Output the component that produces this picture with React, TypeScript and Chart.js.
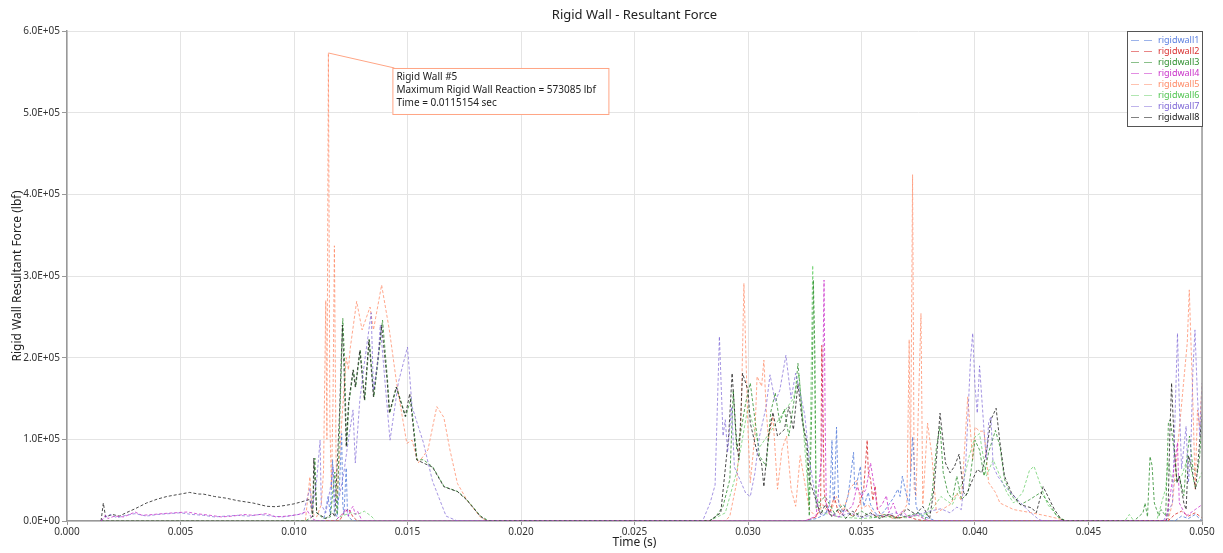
import React, { useEffect, useRef } from "react";
import { Chart, registerables } from "chart.js";

Chart.register(...registerables);

// Values are [time (s), force (thousands of lbf)]
const KLBF = 1000;

const rigidwall1: [number, number][] = [
  [0.0015, 0], [0.0113, 0], [0.0115, 30], [0.0116, 8], [0.0117, 75], [0.01178, 10], [0.0119, 5], [0.012, 40],
  [0.0121, 107], [0.01215, 20], [0.0122, 8], [0.0123, 65], [0.01235, 15], [0.0124, 5], [0.0126, 0],
  [0.0325, 0], [0.033, 3], [0.0334, 8], [0.0336, 20], [0.0337, 99], [0.03375, 30], [0.0338, 25], [0.0339, 115],
  [0.03395, 60], [0.034, 20], [0.0342, 10], [0.0344, 30], [0.0345, 50], [0.03465, 84], [0.0347, 40], [0.0348, 47],
  [0.03495, 67], [0.035, 40], [0.0351, 18], [0.0353, 35], [0.0354, 20], [0.0356, 10], [0.0358, 6], [0.036, 12],
  [0.0362, 20], [0.0364, 28], [0.0366, 39], [0.0367, 30], [0.0368, 55], [0.03695, 35], [0.0371, 20], [0.03725, 103],
  [0.0373, 84], [0.0374, 20], [0.0375, 10], [0.0378, 5], [0.0381, 2], [0.0383, 0], [0.0488, 0], [0.0491, 6],
  [0.0494, 3], [0.0497, 8], [0.05, 0],
];

const rigidwall2: [number, number][] = [
  [0.0015, 0], [0.012, 0], [0.0122, 10], [0.0124, 15], [0.0126, 5], [0.0128, 0], [0.0325, 0], [0.033, 5],
  [0.0332, 20], [0.03325, 215], [0.0333, 150], [0.03335, 40], [0.0334, 25], [0.0336, 10], [0.0338, 30], [0.034, 8],
  [0.0343, 15], [0.0346, 5], [0.0349, 20], [0.0351, 40], [0.03525, 99], [0.0353, 60], [0.0354, 51], [0.0355, 25],
  [0.0356, 43], [0.0357, 15], [0.0359, 5], [0.0362, 8], [0.0366, 3], [0.037, 6], [0.0374, 2], [0.0378, 0],
  [0.0485, 0], [0.0488, 8], [0.0491, 12], [0.0494, 6], [0.0497, 10], [0.05, 4],
];

const rigidwall3: [number, number][] = [
  [0.0015, 0], [0.0105, 0], [0.0108, 5], [0.01092, 77], [0.011, 10], [0.0113, 3], [0.0116, 5], [0.0118, 60],
  [0.0119, 8], [0.01202, 128], [0.01215, 248], [0.01222, 203], [0.01232, 91], [0.01242, 144], [0.01262, 185],
  [0.01272, 164], [0.01292, 209], [0.01312, 148], [0.01332, 222], [0.01352, 152], [0.01372, 200], [0.0139, 246],
  [0.01412, 173], [0.01422, 132], [0.01452, 164], [0.01492, 128], [0.01515, 150], [0.01542, 75], [0.0157, 75],
  [0.01612, 66], [0.01662, 42], [0.01722, 36], [0.01762, 26], [0.01822, 6], [0.0186, 0],
  [0.0283, 0], [0.0286, 6], [0.0289, 18], [0.0292, 51], [0.02935, 160], [0.0295, 88], [0.0297, 112], [0.0299, 145],
  [0.0301, 169], [0.0304, 104], [0.0305, 80], [0.0308, 67], [0.031, 133], [0.0312, 157], [0.0314, 120],
  [0.0316, 137], [0.0318, 104], [0.0321, 161], [0.0322, 193], [0.0324, 128], [0.0326, 80], [0.0327, 6],
  [0.03282, 150], [0.03288, 295], [0.03295, 200], [0.033, 15], [0.0332, 25], [0.0334, 30], [0.0338, 10],
  [0.0342, 20], [0.0346, 5], [0.035, 12], [0.0355, 4], [0.036, 8], [0.0365, 3], [0.037, 6], [0.0375, 10],
  [0.0378, 2], [0.0381, 30], [0.0383, 90], [0.03846, 116], [0.0386, 59], [0.0388, 35], [0.039, 26], [0.0392, 55],
  [0.0394, 26], [0.0397, 35], [0.04, 99], [0.0402, 87], [0.0404, 55], [0.0406, 84], [0.0409, 111], [0.0411, 91],
  [0.0413, 51], [0.0416, 31], [0.042, 20], [0.0424, 26], [0.0429, 35], [0.0433, 20], [0.0436, 6], [0.044, 0],
  [0.047, 0], [0.0474, 10], [0.04749, 22], [0.0476, 5], [0.04771, 79], [0.0478, 68], [0.0479, 22], [0.0481, 6],
  [0.0482, 14], [0.0484, 6], [0.04852, 120], [0.0486, 124], [0.0488, 80], [0.0489, 47], [0.049, 55], [0.0492, 31],
  [0.0493, 68], [0.04945, 104], [0.0496, 64], [0.0498, 59], [0.0499, 80], [0.05, 124],
];

const rigidwall4: [number, number][] = [
  [0.0015, 0], [0.0017, 7], [0.0018, 3], [0.0021, 6], [0.0025, 5], [0.003, 11], [0.0033, 7], [0.0038, 8],
  [0.0042, 9], [0.0047, 10], [0.0053, 11], [0.0057, 9], [0.0063, 7], [0.0068, 5], [0.0073, 6], [0.0078, 8],
  [0.0082, 7], [0.0088, 9], [0.0092, 5], [0.0097, 6], [0.0102, 8], [0.0106, 12], [0.0108, 3], [0.011, 0],
  [0.0118, 0], [0.0121, 8], [0.0123, 15], [0.0124, 6], [0.0125, 14], [0.0126, 18], [0.0127, 8], [0.0128, 12],
  [0.013, 0], [0.0325, 0], [0.033, 6], [0.03325, 80], [0.03335, 295], [0.0334, 120], [0.03345, 20], [0.0336, 8],
  [0.034, 5], [0.0343, 12], [0.0346, 18], [0.0348, 42], [0.035, 30], [0.0352, 39], [0.0354, 71], [0.0356, 35],
  [0.0357, 14], [0.0359, 20], [0.0361, 31], [0.0362, 10], [0.0364, 22], [0.0366, 6], [0.0368, 12], [0.0371, 4],
  [0.0374, 8], [0.0378, 2], [0.038, 0], [0.0484, 0], [0.0486, 31], [0.04892, 96], [0.049, 22], [0.0493, 6],
  [0.0497, 14], [0.05, 20],
];

const rigidwall5: [number, number][] = [
  [0.0015, 0], [0.0105, 0], [0.0107, 54], [0.0108, 10], [0.011, 5], [0.0112, 20], [0.0113, 60], [0.0114, 270],
  [0.01145, 100], [0.0115154, 573.085], [0.01158, 120], [0.01165, 40], [0.01172, 150], [0.01178, 337],
  [0.01185, 80], [0.0119, 30], [0.0121, 120], [0.0123, 200], [0.0124, 185], [0.01247, 210], [0.01276, 269],
  [0.013, 234], [0.01335, 262], [0.0135, 234], [0.01386, 289], [0.0142, 234], [0.01452, 169], [0.01497, 95],
  [0.0152, 99], [0.01547, 71], [0.0159, 87], [0.01629, 140], [0.0166, 127], [0.01687, 87], [0.0172, 46],
  [0.01761, 26], [0.0182, 5], [0.0185, 0],
  [0.029, 0], [0.0292, 6], [0.0295, 47], [0.0297, 128], [0.02982, 291], [0.03, 111], [0.0301, 47], [0.0303, 104],
  [0.0304, 177], [0.0306, 165], [0.0307, 197], [0.0308, 137], [0.0309, 100], [0.0311, 128], [0.0313, 39],
  [0.0315, 88], [0.0317, 104], [0.0319, 39], [0.0321, 18], [0.0323, 80], [0.0325, 47], [0.0327, 14], [0.033, 5],
  [0.0333, 20], [0.0336, 8], [0.0339, 30], [0.0342, 12], [0.0345, 40], [0.0348, 50], [0.035, 15], [0.0353, 20],
  [0.0356, 5], [0.036, 8], [0.0364, 3], [0.0368, 10], [0.037, 20], [0.0371, 222], [0.03716, 60], [0.03725, 424],
  [0.03732, 40], [0.0374, 30], [0.03762, 254], [0.0377, 20], [0.03791, 120], [0.0381, 80], [0.0383, 10],
  [0.0386, 15], [0.0389, 20], [0.0392, 34], [0.0394, 25], [0.03968, 152], [0.0399, 75], [0.04, 115], [0.0402, 110],
  [0.0404, 110], [0.0406, 47], [0.0409, 35], [0.0411, 22], [0.0417, 14], [0.0425, 10], [0.0432, 6], [0.0438, 2],
  [0.044, 0], [0.0485, 0], [0.0487, 22], [0.04935, 218], [0.04944, 283], [0.0496, 144], [0.0497, 39],
  [0.0498, 136], [0.0499, 116], [0.05, 169],
];

const rigidwall6: [number, number][] = [
  [0.0015, 0], [0.0118, 0], [0.012, 5], [0.0125, 10], [0.0128, 8], [0.0131, 12], [0.0134, 6], [0.0136, 0],
  [0.0283, 0], [0.029, 10], [0.0295, 60], [0.03, 140], [0.0305, 90], [0.031, 110], [0.0315, 130], [0.032, 150],
  [0.03225, 180], [0.0325, 90], [0.0327, 20], [0.03285, 313], [0.0329, 250], [0.033, 30], [0.0333, 10],
  [0.034, 5], [0.035, 3], [0.036, 5], [0.037, 4], [0.038, 10], [0.0385, 30], [0.039, 20], [0.0395, 50],
  [0.03975, 80], [0.04, 103], [0.0402, 107], [0.0405, 55], [0.0408, 75], [0.0411, 55], [0.0414, 35], [0.0417, 22],
  [0.0421, 35], [0.0424, 62], [0.0426, 67], [0.0429, 43], [0.0432, 20], [0.0437, 4], [0.044, 0], [0.0466, 0],
  [0.0468, 8], [0.047, 0], [0.048, 0], [0.0484, 40], [0.0485, 72], [0.0487, 47], [0.0491, 55], [0.0494, 80],
  [0.0497, 40], [0.05, 60],
];

const rigidwall7: [number, number][] = [
  [0.0015, 0], [0.0017, 5], [0.0019, 8], [0.0022, 4], [0.0026, 7], [0.003, 9], [0.0035, 6], [0.004, 8],
  [0.0045, 9], [0.005, 10], [0.0055, 8], [0.006, 7], [0.0065, 5], [0.007, 6], [0.0075, 7], [0.008, 6],
  [0.0085, 8], [0.009, 6], [0.0095, 5], [0.01, 7], [0.0104, 9], [0.0107, 40], [0.0108, 15], [0.011, 50],
  [0.01115, 99], [0.0112, 20], [0.0114, 10], [0.0116, 40], [0.01173, 66], [0.0118, 20], [0.012, 30],
  [0.0122, 60], [0.0124, 100], [0.0126, 136], [0.0127, 71], [0.0129, 148], [0.0131, 193], [0.0134, 255],
  [0.0135, 160], [0.0137, 197], [0.0138, 240], [0.014, 173], [0.01423, 99], [0.0146, 170], [0.015, 213],
  [0.0152, 140], [0.0157, 96], [0.0161, 49], [0.0167, 6], [0.0172, 0],
  [0.028, 0], [0.02833, 22], [0.02855, 44], [0.02874, 226], [0.0289, 104], [0.029, 124], [0.0291, 84],
  [0.02928, 140], [0.0294, 66], [0.0297, 47], [0.0299, 34], [0.0301, 30], [0.0303, 58], [0.0305, 103],
  [0.0308, 140], [0.03097, 179], [0.0312, 146], [0.0314, 160], [0.03167, 203], [0.0319, 150], [0.0321, 181],
  [0.0323, 156], [0.0325, 130], [0.0327, 75], [0.033, 25], [0.0332, 8], [0.0336, 12], [0.034, 5], [0.0345, 10],
  [0.035, 4], [0.0355, 8], [0.036, 6], [0.0365, 10], [0.037, 5], [0.0375, 8], [0.038, 12], [0.0385, 15],
  [0.0389, 10], [0.0392, 17], [0.0394, 14], [0.0396, 75], [0.0398, 197], [0.0399, 230], [0.04, 165],
  [0.0401, 132], [0.0402, 190], [0.0404, 110], [0.0405, 75], [0.0406, 120], [0.0407, 128], [0.0408, 67],
  [0.041, 55], [0.0413, 43], [0.0417, 31], [0.0423, 14], [0.0428, 2], [0.043, 0], [0.0483, 0], [0.0487, 22],
  [0.04892, 230], [0.049, 144], [0.0491, 64], [0.0493, 116], [0.0494, 47], [0.0495, 80], [0.0496, 185],
  [0.04969, 234], [0.0498, 152], [0.0499, 104], [0.05, 169],
];

const rigidwall8: [number, number][] = [
  [0.0015, 0], [0.0016, 22], [0.0017, 5], [0.002, 8], [0.0023, 6], [0.0026, 10], [0.003, 15], [0.0035, 22],
  [0.004, 27], [0.0044, 30], [0.005, 33], [0.0054, 35], [0.0058, 33], [0.006, 33], [0.0065, 30], [0.007, 28],
  [0.0075, 25], [0.0082, 22], [0.0088, 18], [0.0092, 17.5], [0.0096, 19], [0.01, 21], [0.0104, 24],
  [0.0107, 26.5], [0.01083, 5], [0.01087, 77], [0.011, 10], [0.0114, 3], [0.0117, 10], [0.0118, 5],
  [0.012, 128], [0.01213, 240], [0.0122, 190], [0.0123, 91], [0.0124, 144], [0.0126, 185], [0.0127, 164],
  [0.0129, 209], [0.0131, 148], [0.0133, 222], [0.0135, 152], [0.0137, 200], [0.01386, 240], [0.0141, 173],
  [0.0142, 132], [0.0145, 164], [0.0149, 128], [0.0151, 156], [0.0154, 75], [0.0157, 71], [0.0161, 66],
  [0.0166, 42], [0.0172, 36], [0.0176, 26], [0.0182, 6], [0.0185, 0],
  [0.0283, 0], [0.0288, 10], [0.02915, 105], [0.0293, 181], [0.0295, 96], [0.0296, 75], [0.02976, 181],
  [0.03, 160], [0.0301, 120], [0.0304, 84], [0.0306, 70], [0.0307, 42], [0.0309, 104], [0.0311, 133],
  [0.0313, 104], [0.0316, 112], [0.0318, 140], [0.032, 112], [0.0322, 168], [0.0324, 120], [0.0326, 96],
  [0.0327, 51], [0.033, 25], [0.0332, 8], [0.0334, 20], [0.0337, 5], [0.034, 15], [0.0343, 3], [0.0346, 12],
  [0.035, 5], [0.0354, 10], [0.0358, 3], [0.0362, 8], [0.0366, 4], [0.037, 15], [0.0374, 8], [0.0377, 18],
  [0.038, 3], [0.0382, 40], [0.03846, 132], [0.0387, 71], [0.0389, 59], [0.0391, 67], [0.0393, 82], [0.0395, 35],
  [0.0396, 31], [0.0399, 51], [0.0401, 63], [0.0403, 59], [0.0405, 84], [0.0407, 124], [0.04093, 138],
  [0.0411, 96], [0.0413, 55], [0.0416, 35], [0.042, 20], [0.0425, 16], [0.0427, 10], [0.043, 42], [0.0432, 31],
  [0.0435, 14], [0.0438, 2], [0.044, 0], [0.0484, 0], [0.0485, 5], [0.04858, 104], [0.04866, 169], [0.0488, 80],
  [0.0489, 47], [0.049, 55], [0.0492, 22], [0.0493, 14], [0.0494, 80], [0.0495, 72], [0.04972, 39],
  [0.0498, 64], [0.05, 132],
];

const seriesNames = ["rigidwall1", "rigidwall2", "rigidwall3", "rigidwall4", "rigidwall5", "rigidwall6", "rigidwall7", "rigidwall8"];
const seriesData = [rigidwall1, rigidwall2, rigidwall3, rigidwall4, rigidwall5, rigidwall6, rigidwall7, rigidwall8];
const lineColors = [
  "rgba(79,120,218,0.8)", "rgba(216,40,40,0.8)", "rgba(47,143,47,0.8)", "rgba(200,40,200,0.75)",
  "rgba(255,138,102,0.75)", "rgba(106,207,106,0.75)", "rgba(125,102,214,0.7)", "rgba(30,30,30,0.8)",
];
const textColors = ["#5a7fe0", "#d83030", "#2f8f2f", "#c830c8", "#ff8a66", "#4fc44f", "#7d66d6", "#202020"];
const drawOrder = [4, 5, 3, 0, 6, 7, 1, 2];

const chartTitle = "Rigid Wall - Resultant Force";
const xTitle = "Time (s)";
const yTitle = "Rigid Wall Resultant Force (lbf)";
const peakTime = 0.0115154;
const peakForce = 573085;
const annotationLines = [
  "Rigid Wall #5",
  "Maximum Rigid Wall Reaction = " + peakForce + " lbf",
  "Time = " + peakTime + " sec",
];

const FONT = "'Noto Sans', 'Open Sans', sans-serif";

function sci(v: number): string {
  if (v === 0) return "0.0E+00";
  const e = Math.floor(Math.log10(Math.abs(v)) + 1e-9);
  const m = v / Math.pow(10, e);
  return m.toFixed(1) + "E" + (e < 0 ? "-" : "+") + String(Math.abs(e)).padStart(2, "0");
}

const decorPlugin = {
  id: "decor",
  afterDraw(chart: any) {
    const ctx = chart.ctx as CanvasRenderingContext2D;
    const a = chart.chartArea;
    const xs = chart.scales.x;
    const ys = chart.scales.y;
    ctx.save();
    // right border
    ctx.strokeStyle = "#9a9a9a";
    ctx.lineWidth = 1.5;
    ctx.beginPath();
    ctx.moveTo(a.right, a.top);
    ctx.lineTo(a.right, a.bottom);
    ctx.stroke();

    // title
    ctx.fillStyle = "#222";
    ctx.font = "13px " + FONT;
    ctx.textAlign = "center";
    ctx.textBaseline = "middle";
    ctx.fillText(chartTitle, (a.left + a.right) / 2, 15);

    // axis titles
    ctx.font = "12px " + FONT;
    ctx.fillText(xTitle, (a.left + a.right) / 2, 543);
    ctx.save();
    ctx.translate(18, (a.top + a.bottom) / 2);
    ctx.rotate(-Math.PI / 2);
    ctx.fillText(yTitle, 0, 0);
    ctx.restore();

    // legend
    const lx1 = a.right - 75;
    const ly1 = a.top;
    const lh = 95;
    ctx.fillStyle = "#fff";
    ctx.fillRect(lx1, ly1, 75, lh);
    ctx.strokeStyle = "#555";
    ctx.lineWidth = 1;
    ctx.strokeRect(lx1 + 0.5, ly1 + 0.5, 75, lh);
    ctx.font = "9px " + FONT;
    ctx.textAlign = "left";
    ctx.textBaseline = "middle";
    seriesNames.forEach((name, i) => {
      const yy = ly1 + 9.5 + i * 11;
      ctx.strokeStyle = lineColors[i];
      ctx.globalAlpha = 0.7;
      ctx.setLineDash([8, 5]);
      ctx.beginPath();
      ctx.moveTo(lx1 + 4, yy);
      ctx.lineTo(lx1 + 28, yy);
      ctx.stroke();
      ctx.setLineDash([]);
      ctx.globalAlpha = 1;
      ctx.fillStyle = textColors[i];
      ctx.fillText(name, lx1 + 31, yy);
    });

    // annotation
    const px = xs.getPixelForValue(peakTime);
    const py = ys.getPixelForValue(peakForce);
    const bx = px + 64;
    const by = py + 15;
    ctx.strokeStyle = "#ffa585";
    ctx.lineWidth = 1;
    ctx.beginPath();
    ctx.moveTo(px, py);
    ctx.lineTo(bx + 2, by);
    ctx.stroke();
    ctx.fillStyle = "#fff";
    ctx.fillRect(bx, by, 216, 46);
    ctx.strokeRect(bx + 0.5, by + 0.5, 216, 46);
    ctx.fillStyle = "#222";
    ctx.font = "10px " + FONT;
    annotationLines.forEach((t, i) => {
      ctx.fillText(t, bx + 4, by + 9 + i * 13.3);
    });
    ctx.restore();
  },
};

export default function App() {
  const ref = useRef<HTMLCanvasElement>(null);
  useEffect(() => {
    const datasets = seriesData.map((s, i) => ({
      label: seriesNames[i],
      data: s.map(([t, v]) => ({ x: t, y: v * KLBF })),
      borderColor: lineColors[i],
      backgroundColor: lineColors[i],
      borderWidth: 1,
      borderDash: [3, 2],
      pointRadius: 0,
      tension: 0,
      fill: false,
      order: drawOrder[i],
    }));
    const chart = new Chart(ref.current!, {
      type: "line",
      data: { datasets },
      plugins: [decorPlugin],
      options: {
        animation: false,
        responsive: true,
        maintainAspectRatio: false,
        layout: { padding: { top: 31, right: 21, left: 0, bottom: 0 } },
        plugins: {
          legend: { display: false },
          title: { display: false },
          tooltip: { enabled: false },
        },
        scales: {
          x: {
            type: "linear",
            min: 0,
            max: 0.05,
            afterFit: (s: any) => {
              s.height = 32;
            },
            ticks: {
              stepSize: 0.005,
              color: "#333",
              font: { family: FONT, size: 10 },
              padding: 1,
              maxRotation: 0,
              callback: (v: any) => Number(v).toFixed(3),
            },
            grid: { color: "#e4e4e4", tickColor: "#999", tickLength: 4 },
            border: { display: true, color: "#999", width: 1.5 },
          },
          y: {
            type: "linear",
            min: 0,
            max: 600000,
            afterFit: (s: any) => {
              s.width = 67;
            },
            ticks: {
              stepSize: 100000,
              color: "#333",
              font: { family: FONT, size: 10 },
              padding: 2,
              callback: (v: any) => sci(Number(v)),
            },
            grid: { color: "#e4e4e4", tickColor: "#999", tickLength: 5 },
            border: { display: true, color: "#999", width: 1.5 },
          },
        },
      },
    });
    return () => chart.destroy();
  }, []);
  return (
    <div style={{ position: "fixed", left: 0, top: 0, width: 1223, height: 553, background: "#fff" }}>
      <canvas ref={ref} />
    </div>
  );
}
